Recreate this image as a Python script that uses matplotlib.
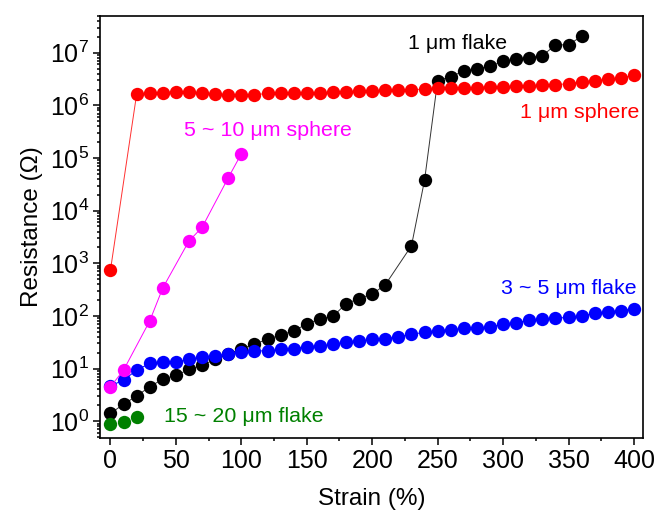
import matplotlib
matplotlib.use('Agg')
import matplotlib.pyplot as plt
from matplotlib.ticker import LogLocator, MultipleLocator, NullFormatter

plt.rcParams['font.family'] = ['Liberation Sans', 'DejaVu Sans']
plt.rcParams['mathtext.fontset'] = 'custom'
plt.rcParams['mathtext.rm'] = 'Liberation Sans'

# 1 um flake (black)
flake1_x = [0, 10, 20, 30, 40, 50, 60, 70, 80, 90, 100, 110, 120, 130, 140, 150, 160, 170,
            180, 190, 200, 210, 230, 240, 250, 260, 270, 280, 290, 300, 310, 320, 330, 340,
            350, 360]
flake1_y = [1.4, 2.1, 3.0, 4.5, 6.3, 7.4, 9.6, 11.5, 15, 19, 23.6, 29, 36, 43, 52, 70, 87, 98,
            170, 213, 260, 390, 2150, 3.8e4, 2.95e6, 3.5e6, 4.5e6, 5.0e6, 5.5e6, 6.9e6, 7.6e6,
            8.1e6, 8.8e6, 1.4e7, 1.42e7, 2.05e7]

# 3 ~ 5 um flake (blue)
flake35_x = list(range(0, 401, 10))
flake35_y = [4.7, 6.0, 9.3, 12.5, 13.4, 13.1, 15, 16.6, 17.4, 19, 20.8, 21.4, 21.8, 23, 24,
             26, 27, 28.6, 32, 33.6, 35.6, 37, 40, 45, 48.5, 52, 55, 57.6, 58, 62, 69, 74,
             83, 86, 90, 94, 99, 112, 120, 125, 138]

# 1 um sphere (red)
sphere1_x = [0] + list(range(20, 401, 10))
sphere1_y = [740, 1.62e6, 1.68e6, 1.75e6, 1.8e6, 1.78e6, 1.68e6, 1.66e6, 1.6e6, 1.58e6,
             1.6e6, 1.68e6, 1.7e6, 1.7e6, 1.72e6, 1.74e6, 1.76e6, 1.8e6, 1.84e6, 1.88e6,
             1.92e6, 1.96e6, 2.0e6, 2.02e6, 2.1e6, 2.14e6, 2.15e6, 2.18e6, 2.25e6, 2.28e6,
             2.3e6, 2.35e6, 2.4e6, 2.45e6, 2.6e6, 2.8e6, 2.95e6, 3.15e6, 3.3e6, 3.8e6]

# 5 ~ 10 um sphere (magenta)
sphere510_x = [0, 10, 30, 40, 60, 70, 90, 100]
sphere510_y = [4.5, 9.3, 80, 340, 2650, 4800, 4.2e4, 1.2e5]

# 15 ~ 20 um flake (green)
flake1520_x = [0, 10, 20]
flake1520_y = [0.9, 0.98, 1.18]

fig = plt.figure(figsize=(6.56, 5.14), dpi=100)
ax = fig.add_axes([0.1524, 0.148, 0.828, 0.821])

ms = 9.6
lw = 0.7
ax.plot(flake1_x, flake1_y, '-', color='#333333', lw=lw, zorder=2)
ax.plot(flake1_x, flake1_y, 'o', color='black', ms=ms, mec='none', zorder=3)
ax.plot(flake35_x, flake35_y, 'o-', color='#0000ff', ms=ms, mec='none', lw=lw, zorder=4)
ax.plot(sphere1_x, sphere1_y, '-', color='#ff3030', lw=lw, zorder=2)
ax.plot(sphere1_x, sphere1_y, 'o', color='#ff0000', ms=ms, mec='none', zorder=5)
ax.plot(sphere510_x, sphere510_y, 'o-', color='#ff00ff', ms=ms, mec='none', lw=lw, zorder=6)
ax.plot(flake1520_x, flake1520_y, 'o', color='#008000', ms=ms, mec='none', zorder=7)

ax.set_yscale('log')
ax.set_xlim(-8, 407)
ax.set_ylim(0.48, 5e7)

ax.xaxis.set_major_locator(MultipleLocator(50))
ax.xaxis.set_minor_locator(MultipleLocator(25))
ax.yaxis.set_major_locator(LogLocator(base=10, numticks=20))
ax.yaxis.set_minor_locator(LogLocator(base=10, subs=range(2, 10), numticks=20))
ax.yaxis.set_minor_formatter(NullFormatter())

ax.tick_params(which='both', direction='out', top=False, right=False, width=1.1,
               labelsize=18, colors='black')
ax.tick_params(which='major', length=5, pad=3)
ax.tick_params(which='minor', length=2.5)
for sp in ax.spines.values():
    sp.set_linewidth(1.2)

ax.set_xlabel('Strain (%)', fontsize=17.5, labelpad=11)
ax.set_ylabel('Resistance (\u03a9)', fontsize=17.5, labelpad=5)

ax.text(265, 1.48e7, '1 \u03bcm flake', color='black', fontsize=15.4, ha='center', va='center')
ax.text(404, 7.2e5, '1 \u03bcm sphere', color='#ff0000', fontsize=15.4, ha='right', va='center')
ax.text(120, 3.4e5, '5 ~ 10 \u03bcm sphere', color='#ff00ff', fontsize=15.4, ha='center', va='center')
ax.text(402, 333, '3 ~ 5 \u03bcm flake', color='#0000ff', fontsize=15.4, ha='right', va='center')
ax.text(41, 1.2, '15 ~ 20 \u03bcm flake', color='#008000', fontsize=15.4, ha='left', va='center')

fig.savefig('out.png', dpi=100)
